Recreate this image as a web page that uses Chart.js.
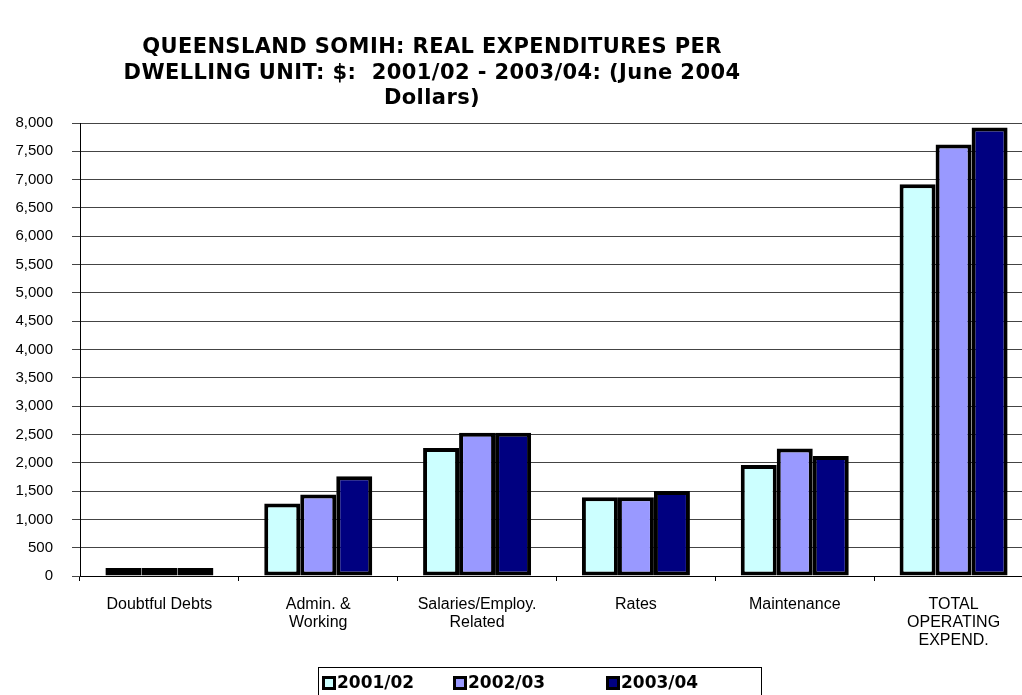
<!DOCTYPE html>
<html>
<head>
<meta charset="utf-8">
<script src="https://cdn.jsdelivr.net/npm/chart.js@4.4.1/dist/chart.umd.min.js"></script>
<style>
  html, body { margin: 0; padding: 0; background: #fff; overflow: hidden; }
  #wrap { position: absolute; left: 0; top: 0; width: 1040px; height: 695px; }
</style>
</head>
<body>
<div id="wrap"><canvas id="myChart"></canvas></div>
<script>
const categories = [
  "Doubtful Debts",
  ["Admin. &", "Working"],
  ["Salaries/Employ.", "Related"],
  "Rates",
  "Maintenance",
  ["TOTAL", "OPERATING", "EXPEND."]
];
const years = ["2001/02", "2002/03", "2003/04"];
const values2001 = [140, 1280, 2260, 1390, 1960, 6920];
const values2002 = [140, 1440, 2530, 1390, 2250, 7620];
const values2003 = [140, 1760, 2530, 1500, 2120, 7920];
const yTicks = { min: 0, max: 8000, step: 500 };
const titleLines = [
  "QUEENSLAND SOMIH: REAL EXPENDITURES PER",
  "DWELLING UNIT: $:  2001/02 - 2003/04: (June 2004",
  "Dollars)"
];

const colors = ["#ccffff", "#9999ff", "#000080"];

// title + boxed legend drawn by hand, the original sits off-centre
const extras = {
  id: "extras",
  afterDraw(chart) {
    const ctx = chart.ctx;
    ctx.save();
    ctx.fillStyle = "#000";
    ctx.font = "bold 21px 'DejaVu Sans'";
    ctx.letterSpacing = "0.4px";
    ctx.textAlign = "center";
    ctx.textBaseline = "middle";
    titleLines.forEach((t, i) => ctx.fillText(t, 432, 48 + i * 25.5));
    ctx.letterSpacing = "0px";

    // legend frame
    ctx.strokeStyle = "#000";
    ctx.lineWidth = 1;
    ctx.strokeRect(318.5, 667.5, 443, 40);
    const xs = [322, 453, 606];
    ctx.textAlign = "left";
    ctx.font = "bold 17px 'DejaVu Sans'";
    chart.data.datasets.forEach((ds, i) => {
      ctx.fillStyle = ds.backgroundColor;
      ctx.lineWidth = 3;
      ctx.fillRect(xs[i] + 1.5, 677.5, 11, 11);
      ctx.strokeRect(xs[i] + 1.5, 677.5, 11, 11);
      ctx.fillStyle = "#000";
      ctx.fillText(ds.label, xs[i] + 15, 684);
    });
    ctx.restore();
  }
};

new Chart(document.getElementById("myChart"), {
  type: "bar",
  data: {
    labels: categories,
    datasets: [values2001, values2002, values2003].map((d, i) => ({
      label: years[i],
      data: d,
      backgroundColor: colors[i],
      borderColor: "#000",
      borderWidth: 4,
      borderSkipped: false,
      categoryPercentage: 0.68,
      barPercentage: 1.0
    }))
  },
  options: {
    responsive: true,
    maintainAspectRatio: false,
    animation: false,
    layout: { padding: { top: 123, right: 7, left: 0, bottom: 0 } },
    scales: {
      x: {
        grid: {
          offset: true,
          drawOnChartArea: false,
          tickLength: 5,
          color: "#000"
        },
        border: { color: "#000", width: 1 },
        ticks: {
          color: "#000",
          padding: 15,
          maxRotation: 0,
          autoSkip: false,
          font: { family: "'Liberation Sans', Arial, sans-serif", size: 16, lineHeight: 1.125 }
        },
        afterFit(scale) { scale.height = 119; }
      },
      y: {
        min: yTicks.min,
        max: yTicks.max,
        grid: { color: "#444", tickLength: 8 },
        border: { color: "#000", width: 1 },
        ticks: {
          stepSize: yTicks.step,
          color: "#000",
          padding: 19,
          font: { family: "'Liberation Sans', Arial, sans-serif", size: 15 }
        },
        afterFit(scale) { scale.width = 80; }
      }
    },
    plugins: {
      legend: { display: false },
      title: { display: false },
      tooltip: { enabled: false }
    }
  },
  plugins: [extras]
});
</script>
</body>
</html>
